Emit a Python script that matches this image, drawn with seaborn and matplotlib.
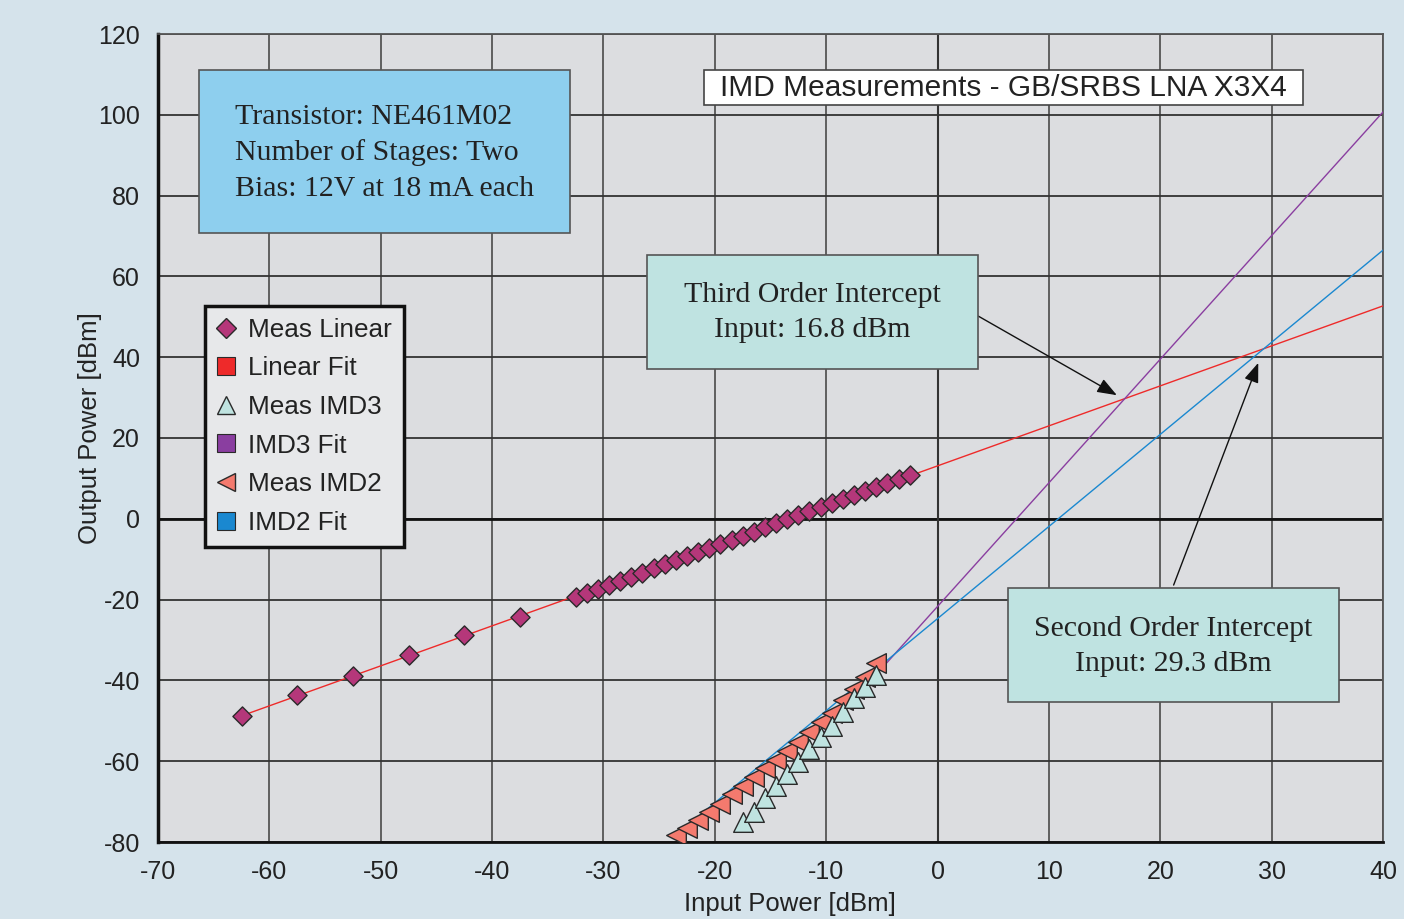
import numpy as np
import pandas as pd
import matplotlib
matplotlib.use("Agg")
import matplotlib.pyplot as plt
import seaborn as sns
from matplotlib.lines import Line2D
from matplotlib.patches import Rectangle

# ---------------- data ----------------
lin_x = [-62.5, -57.5, -52.5, -47.5, -42.5, -37.5,
         -32.5, -31.5, -30.5, -29.5, -28.5, -27.5, -26.5, -25.5, -24.5, -23.5,
         -22.5, -21.5, -20.5, -19.5, -18.5, -17.5, -16.5, -15.5, -14.5, -13.5,
         -12.5, -11.5, -10.5, -9.5, -8.5, -7.5, -6.5, -5.5, -4.5, -3.5, -2.5]
lin_y = [-48.7, -43.7, -38.8, -33.7, -28.7, -24.2,
         -19.4, -18.4, -17.4, -16.4, -15.3, -14.3, -13.3, -12.3, -11.3, -10.3,
         -9.3, -8.3, -7.2, -6.2, -5.2, -4.2, -3.2, -2.1, -1.1, -0.1,
         0.9, 1.9, 2.9, 3.9, 4.9, 5.9, 6.9, 7.9, 8.9, 9.9, 10.9]

imd3_x = [-17.5, -16.5, -15.5, -14.5, -13.5, -12.5, -11.5, -10.5, -9.5, -8.5,
          -7.5, -6.5, -5.5]
imd3_y = [-75.0, -72.6, -69.2, -66.1, -63.2, -60.1, -57.1, -54.1, -51.2, -47.8,
          -44.4, -41.6, -38.7]

imd2_x = [-23.5, -22.5, -21.5, -20.5, -19.5, -18.5, -17.5, -16.5, -15.5, -14.5,
          -13.5, -12.5, -11.5, -10.5, -9.5, -8.5, -7.5, -6.5, -5.5]
imd2_y = [-78.3, -76.6, -74.6, -72.5, -70.6, -68.1, -66.1, -64.0, -61.8, -59.7,
          -57.4, -55.2, -52.8, -50.4, -48.0, -44.9, -42.1, -39.2, -35.6]

# fitted lines: slope, intercept, x-range
lin_fit_slope, lin_fit_icpt, lin_fit_range = 0.99, 13.1, [-62.5, 40]
imd3_fit_slope, imd3_fit_icpt, imd3_fit_range = 3.06, -21.7, [-17.5, 40]
imd2_fit_slope, imd2_fit_icpt, imd2_fit_range = 2.28, -24.7, [-23.5, 40]

x_ticks = [-70, -60, -50, -40, -30, -20, -10, 0, 10, 20, 30, 40]
y_ticks = [-80, -60, -40, -20, 0, 20, 40, 60, 80, 100, 120]

title_txt = "IMD Measurements - GB/SRBS LNA X3X4"
info_txt = "Transistor: NE461M02\nNumber of Stages: Two\nBias: 12V at 18 mA each"
toi_txt = "Third Order Intercept\nInput: 16.8 dBm"
soi_txt = "Second Order Intercept\nInput: 29.3 dBm"

# ---------------- style ----------------
sns.set_style("white")
plt.rcParams["font.family"] = ["Liberation Sans", "DejaVu Sans"]

BG = "#d5e3eb"
PLOT_BG = "#dcdde0"
C_LIN = "#b5377a"
C_LINFIT = "#ee2a2a"
C_IMD3 = "#bfe3e0"
C_IMD3FIT = "#8a3ea0"
C_IMD2 = "#f47a6e"
C_IMD2FIT = "#1a88d0"
EDGE = "#2a2a2a"

fig = plt.figure(figsize=(14.04, 9.19), dpi=100, facecolor=BG)
ax = fig.add_axes([158 / 1404, 77 / 919, 1225 / 1404, 808 / 919])
ax.set_facecolor(PLOT_BG)

# fit lines
def fit_df(slope, icpt, rng):
    xs = np.array(rng, dtype=float)
    return pd.DataFrame({"x": xs, "y": slope * xs + icpt})

sns.lineplot(data=fit_df(lin_fit_slope, lin_fit_icpt, lin_fit_range), x="x", y="y",
             ax=ax, color=C_LINFIT, lw=1.0, zorder=3)
sns.lineplot(data=fit_df(imd3_fit_slope, imd3_fit_icpt, imd3_fit_range), x="x", y="y",
             ax=ax, color=C_IMD3FIT, lw=1.0, zorder=3)
sns.lineplot(data=fit_df(imd2_fit_slope, imd2_fit_icpt, imd2_fit_range), x="x", y="y",
             ax=ax, color=C_IMD2FIT, lw=1.0, zorder=3)

# measured points
sns.scatterplot(x=lin_x, y=lin_y, ax=ax, marker="D", s=95, color=C_LIN,
                edgecolor=EDGE, linewidth=1.0, zorder=5)
sns.scatterplot(x=imd2_x, y=imd2_y, ax=ax, marker="<", s=200, color=C_IMD2,
                edgecolor=EDGE, linewidth=1.0, zorder=5)
sns.scatterplot(x=imd3_x, y=imd3_y, ax=ax, marker="^", s=200, color=C_IMD3,
                edgecolor=EDGE, linewidth=1.0, zorder=6)

# axes
ax.set_xlim(-70, 40)
ax.set_ylim(-80, 120)
ax.set_xticks(x_ticks)
ax.set_yticks(y_ticks)
ax.set_xticklabels([str(t) for t in x_ticks])
ax.set_yticklabels([str(t) for t in y_ticks])
ax.tick_params(axis="both", which="major", direction="out", length=10, width=1.2,
               color="#333333", labelsize=18, labelcolor="#222222", pad=3)
ax.tick_params(axis="y", pad=3)
ax.xaxis.grid(True, color="#555555", lw=1.3, zorder=1)
ax.yaxis.grid(True, color="#333333", lw=1.3, zorder=1)
ax.set_axisbelow(True)
ax.axhline(0, color="#111111", lw=2.0, zorder=2)
ax.axvline(0, color="#333333", lw=1.5, zorder=2)
for side in ["top", "right"]:
    ax.spines[side].set_color("#555555")
    ax.spines[side].set_linewidth(1.3)
ax.spines["left"].set_color("#111111")
ax.spines["left"].set_linewidth(2.5)
ax.spines["bottom"].set_color("#111111")
ax.spines["bottom"].set_linewidth(2.0)

ax.set_xlabel("Input Power [dBm]", fontsize=18.5, color="#222222")
ax.xaxis.set_label_coords(0.516, -0.062)
ax.set_ylabel("Output Power [dBm]", fontsize=18.5, color="#222222")
ax.yaxis.set_label_coords(-0.046, 0.512)

# legend
handles = [
    Line2D([], [], ls="none", marker="D", ms=10, mfc=C_LIN, mec=EDGE, mew=1.0),
    Line2D([], [], ls="none", marker="s", ms=13, mfc=C_LINFIT, mec=EDGE, mew=0.8),
    Line2D([], [], ls="none", marker="^", ms=13, mfc=C_IMD3, mec=EDGE, mew=1.0),
    Line2D([], [], ls="none", marker="s", ms=13, mfc=C_IMD3FIT, mec=EDGE, mew=0.8),
    Line2D([], [], ls="none", marker="<", ms=13, mfc=C_IMD2, mec=EDGE, mew=1.0),
    Line2D([], [], ls="none", marker="s", ms=13, mfc=C_IMD2FIT, mec=EDGE, mew=0.8),
]
labels = ["Meas Linear", "Linear Fit", "Meas IMD3", "IMD3 Fit", "Meas IMD2", "IMD2 Fit"]
leg = ax.legend(handles, labels, loc="upper left", bbox_to_anchor=(0.0384, 0.6634),
                borderaxespad=0, frameon=True, fancybox=False, fontsize=18.8,
                handlelength=0.7, handletextpad=0.5, labelspacing=0.56,
                borderpad=0.45, labelcolor="#222222")
leg.get_frame().set_facecolor("#e7e8ea")
leg.get_frame().set_edgecolor("#111111")
leg.get_frame().set_linewidth(2.5)
leg.get_frame().set_alpha(1.0)
leg.set_zorder(10)

# boxes
def box(x0, y0, x1, y1, fc, ec="#555555", lw=1.2):
    r = Rectangle((x0, y0), x1 - x0, y1 - y0, transform=ax.transAxes,
                  facecolor=fc, edgecolor=ec, lw=lw, zorder=8)
    ax.add_patch(r)

serif = ["Liberation Serif", "DejaVu Serif"]

box(0.0335, 0.7537, 0.3363, 0.9554, "#8ecfee")
ax.text(0.0629, 0.853, info_txt, transform=ax.transAxes, ha="left", va="center",
        fontsize=21.5, family=serif, color="#222222", linespacing=1.46, zorder=9)

box(0.4457, 0.9121, 0.9347, 0.9554, "#ffffff", ec="#444444")
ax.text(0.690, 0.9335, title_txt, transform=ax.transAxes, ha="center", va="center",
        fontsize=21.5, color="#222222", zorder=9)

box(0.3992, 0.5854, 0.6694, 0.7265, "#bfe3e1")
ax.text(0.5343, 0.655, toi_txt, transform=ax.transAxes, ha="center", va="center",
        fontsize=21.5, family=serif, color="#222222", linespacing=1.46, zorder=9)

box(0.6939, 0.1733, 0.9641, 0.3144, "#bfe3e1")
ax.text(0.829, 0.2416, soi_txt, transform=ax.transAxes, ha="center", va="center",
        fontsize=21.5, family=serif, color="#222222", linespacing=1.46, zorder=9)

# arrows
arrow_kw = dict(arrowstyle="-|>,head_length=1.2,head_width=0.45", color="#111111",
                lw=1.0, shrinkA=0, shrinkB=0)
ax.annotate("", xy=(16.1, 30.6), xytext=(3.64, 50.2), arrowprops=arrow_kw, zorder=7)
ax.annotate("", xy=(28.8, 38.6), xytext=(21.2, -16.4), arrowprops=arrow_kw, zorder=7)

fig.savefig("out.png", dpi=100, facecolor=BG)
